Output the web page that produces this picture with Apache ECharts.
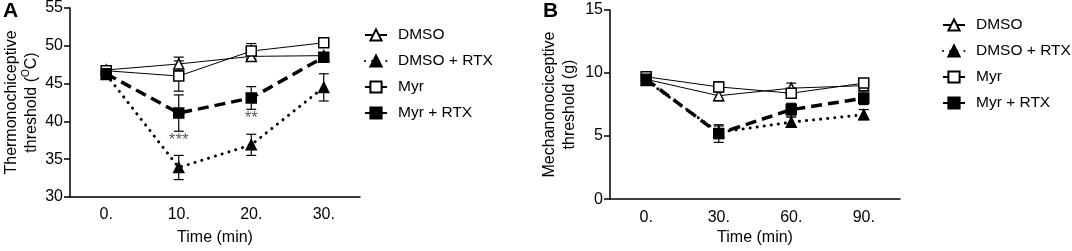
<!DOCTYPE html>
<html>
<head>
<meta charset="utf-8">
<script src="https://cdn.jsdelivr.net/npm/echarts@6/dist/echarts.min.js"></script>
<style>html,body{margin:0;padding:0;background:#fff}#c{width:1072px;height:251px}</style>
</head>
<body>
<div id="c"></div>
<script>
// ---- data ----
const seriesNames = ['DMSO', 'DMSO + RTX', 'Myr', 'Myr + RTX'];

const catsA = ['0.', '10.', '20.', '30.'];
const dmsoA = [46.8, 47.6, 48.6, 48.7];
const dmsoAErr = [0.3, 0.9, 0.4, 0.4];
const dmsoRtxA = [46.2, 33.9, 36.9, 44.5];
const dmsoRtxAErr = [0.3, 1.6, 1.4, 1.8];
const myrA = [46.7, 46.0, 49.3, 50.4];
const myrAErr = [0.3, 2.0, 1.0, 0.3];
const myrRtxA = [46.3, 41.1, 43.1, 48.5];
const myrRtxAErr = [0.3, 2.4, 1.5, 0.6];

const sigCatsA = ['10.', '20.'];
const sigValsA = [37.5, 40.4];
const sigLabelsA = ['***', '**'];

const catsB = ['0.', '30.', '60.', '90.'];
const dmsoB = [9.5, 8.2, 8.8, 9.0];
const dmsoBErr = [0.2, 0.4, 0.4, 0.3];
const dmsoRtxB = [9.4, 5.3, 6.1, 6.7];
const dmsoRtxBErr = [0.2, 0.5, 0.4, 0.4];
const myrB = [9.7, 8.9, 8.4, 9.2];
const myrBErr = [0.2, 0.4, 0.3, 0.3];
const myrRtxB = [9.5, 5.2, 7.1, 8.0];
const myrRtxBErr = [0.2, 0.7, 0.5, 0.5];

// ---- styles ----
const FONT = '"Liberation Sans", Arial, sans-serif';
const styles = {
  'DMSO': {symbol: 'triangle', fill: '#fff', width: 1, type: 'solid', size: 10},
  'DMSO + RTX': {symbol: 'triangle', fill: '#000', width: 3, type: [0.1, 7], cap: 'round', size: 10},
  'Myr': {symbol: 'rect', fill: '#fff', width: 1, type: 'solid', size: 10},
  'Myr + RTX': {symbol: 'rect', fill: '#000', width: 3.5, type: [11, 6], size: 10}
};

function lineSeries(name, data, axisIdx) {
  const s = styles[name];
  return {
    name: name, type: 'line', data: data,
    xAxisIndex: axisIdx, yAxisIndex: axisIdx,
    symbol: s.symbol, symbolSize: s.size, z: 3,
    itemStyle: {color: s.fill, borderColor: '#000', borderWidth: 1.5},
    lineStyle: {color: '#000', width: s.width, type: s.type, cap: s.cap || 'butt'},
    emphasis: {disabled: true}, animation: false
  };
}
function errSeries(vals, errs, axisIdx) {
  return {
    type: 'custom', xAxisIndex: axisIdx, yAxisIndex: axisIdx, z: 2, silent: true,
    animation: false,
    data: vals.map((v, i) => [i, v - errs[i], v + errs[i]]),
    renderItem: function (params, api) {
      const lo = api.coord([api.value(0), api.value(1)]);
      const hi = api.coord([api.value(0), api.value(2)]);
      const w = 5;
      const st = {stroke: '#000', lineWidth: 1.2};
      return {type: 'group', children: [
        {type: 'line', shape: {x1: lo[0], y1: lo[1], x2: hi[0], y2: hi[1]}, style: st},
        {type: 'line', shape: {x1: lo[0] - w, y1: lo[1], x2: lo[0] + w, y2: lo[1]}, style: st},
        {type: 'line', shape: {x1: hi[0] - w, y1: hi[1], x2: hi[0] + w, y2: hi[1]}, style: st}
      ]};
    }
  };
}

const axisCommonX = {
  type: 'category', boundaryGap: true,
  axisLine: {lineStyle: {color: '#000', width: 1.5}},
  axisTick: {alignWithLabel: true, length: 6, lineStyle: {color: '#000', width: 1.5}},
  axisLabel: {color: '#000', fontSize: 16, fontFamily: FONT, margin: 10},
  name: 'Time (min)', nameLocation: 'middle',
  nameTextStyle: {color: '#000', fontSize: 16, fontFamily: FONT},
  splitLine: {show: false}
};
const axisCommonY = {
  type: 'value',
  axisLine: {show: true, lineStyle: {color: '#000', width: 1.5}},
  axisTick: {show: true, length: 6, lineStyle: {color: '#000', width: 1.5}},
  axisLabel: {color: '#000', fontSize: 16, fontFamily: FONT, margin: 7},
  splitLine: {show: false},
  nameLocation: 'middle', nameRotate: 90,
  nameTextStyle: {color: '#000', fontSize: 16, fontFamily: FONT, lineHeight: 20,
    rich: {sup: {fontSize: 10, fontFamily: FONT, color: '#000', verticalAlign: 'top', lineHeight: 20, padding: [0, 0, 7, 0]}}}
};

const legendCommon = {
  orient: 'vertical', itemWidth: 22, itemHeight: 14, itemGap: 10, padding: 0,
  textStyle: {color: '#000', fontSize: 15.5, fontFamily: FONT, padding: [0, 0, 0, 6]},
  data: seriesNames, selectedMode: false
};

const option = {
  animation: false,
  backgroundColor: '#fff',
  grid: [
    {left: 70, top: 8, width: 290, height: 191},
    {left: 610, top: 10, width: 290, height: 192}
  ],
  xAxis: [
    Object.assign({}, axisCommonX, {gridIndex: 0, data: catsA, nameGap: 33}),
    Object.assign({}, axisCommonX, {gridIndex: 1, data: catsB, nameGap: 26})
  ],
  yAxis: [
    Object.assign({}, axisCommonY, {gridIndex: 0, min: 30, max: 55, interval: 5,
      name: 'Thermonochiceptive\nthreshold ({sup|O}C)', nameGap: 28}),
    Object.assign({}, axisCommonY, {gridIndex: 1, min: 0, max: 15, interval: 5,
      name: 'Mechanonociceptive\nthreshold (g)', nameGap: 30})
  ],
  legend: [
    Object.assign({}, legendCommon, {left: 364, top: 27}),
    Object.assign({}, legendCommon, {left: 942, top: 17})
  ],
  graphic: [
    {type: 'text', left: 3, top: 1, style: {text: 'A', font: 'bold 21px ' + FONT, fill: '#000'}},
    {type: 'text', left: 543, top: 1, style: {text: 'B', font: 'bold 21px ' + FONT, fill: '#000'}}
  ],
  series: [
    errSeries(dmsoA, dmsoAErr, 0),
    errSeries(dmsoRtxA, dmsoRtxAErr, 0),
    errSeries(myrA, myrAErr, 0),
    errSeries(myrRtxA, myrRtxAErr, 0),
    lineSeries('DMSO', dmsoA, 0),
    lineSeries('DMSO + RTX', dmsoRtxA, 0),
    lineSeries('Myr', myrA, 0),
    lineSeries('Myr + RTX', myrRtxA, 0),
    {
      type: 'scatter', xAxisIndex: 0, yAxisIndex: 0, symbolSize: 0, silent: true,
      data: sigCatsA.map((c, i) => [c, sigValsA[i], sigLabelsA[i]]),
      label: {show: true, position: 'inside', color: '#333', fontSize: 17, fontFamily: FONT,
        formatter: p => p.data[2]}
    },
    errSeries(dmsoB, dmsoBErr, 1),
    errSeries(dmsoRtxB, dmsoRtxBErr, 1),
    errSeries(myrB, myrBErr, 1),
    errSeries(myrRtxB, myrRtxBErr, 1),
    lineSeries('DMSO', dmsoB, 1),
    lineSeries('DMSO + RTX', dmsoRtxB, 1),
    lineSeries('Myr', myrB, 1),
    lineSeries('Myr + RTX', myrRtxB, 1)
  ]
};

const chart = echarts.init(document.getElementById('c'), null, {renderer: 'canvas'});
chart.setOption(option);
</script>
</body>
</html>
